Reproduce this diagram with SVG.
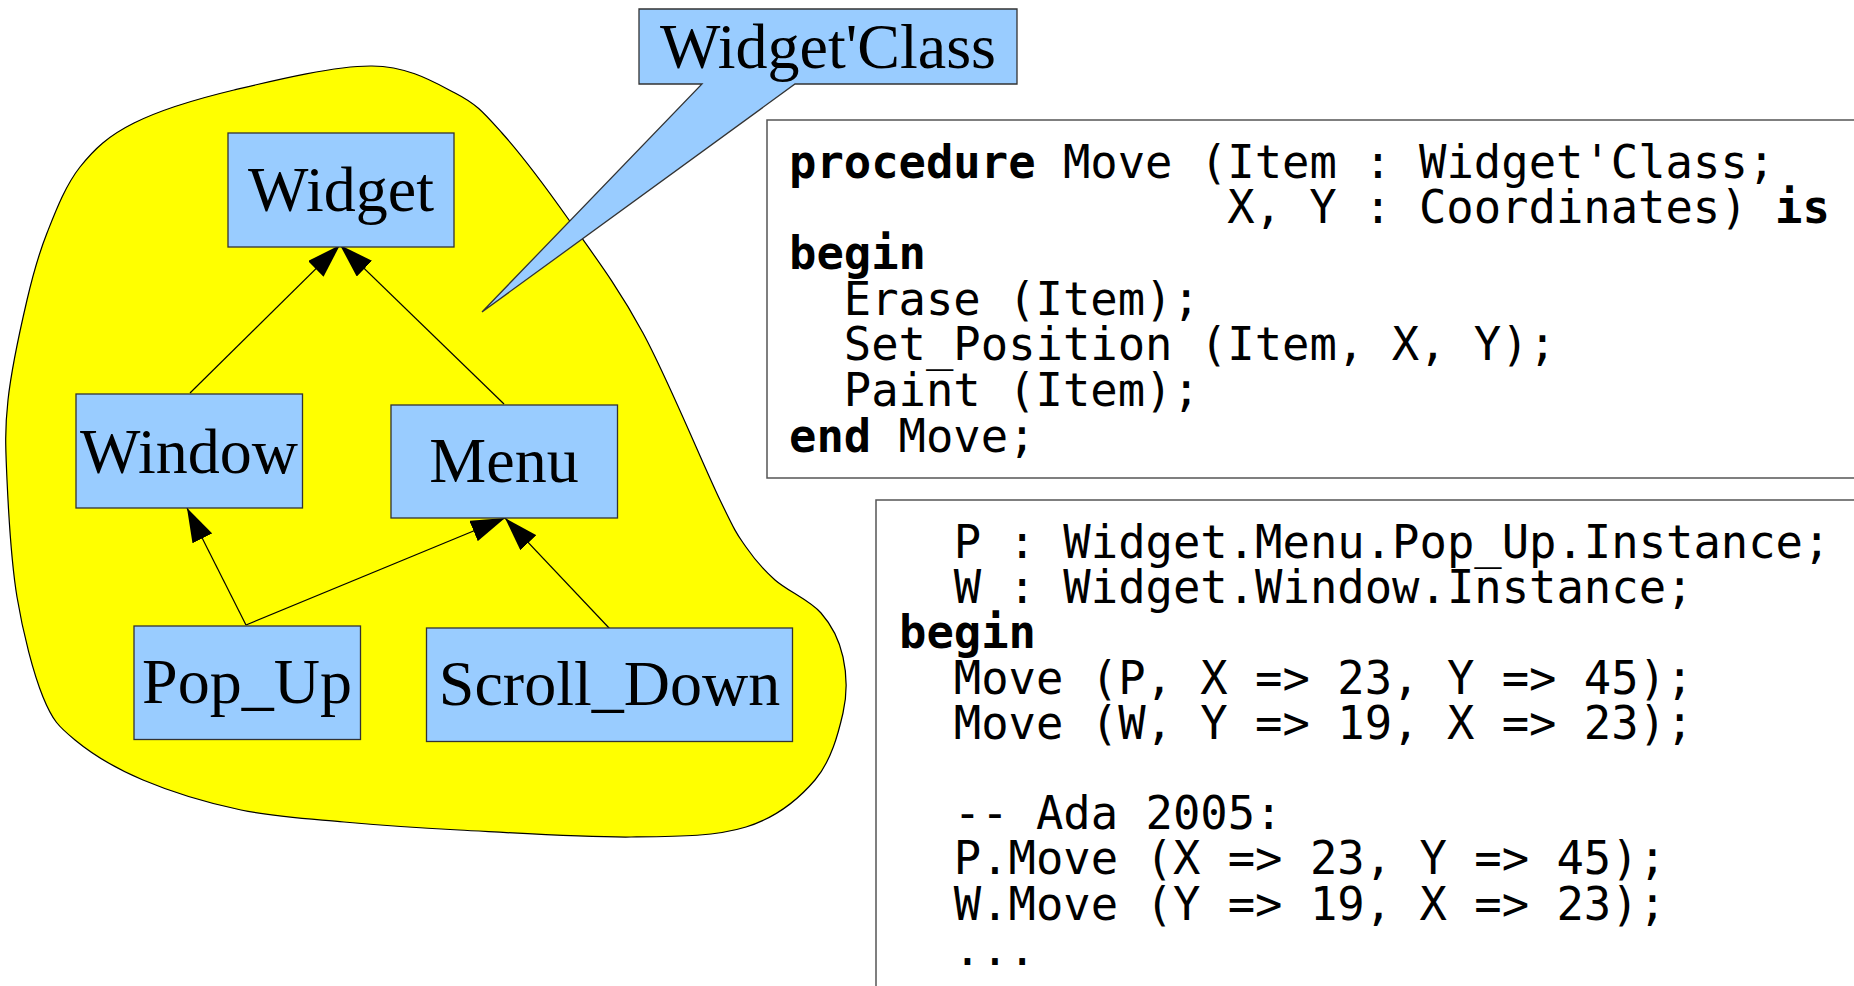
<svg xmlns="http://www.w3.org/2000/svg" width="1854" height="986" viewBox="0 0 1854 986">
<style>
.node rect{fill:#99ccff;stroke:#333;stroke-width:1.3}
.lbl{font-family:"Liberation Serif","Times New Roman",serif;font-size:64px;fill:#000;text-anchor:middle}
.code{font-family:"DejaVu Sans Mono","Liberation Mono",monospace;font-size:45.5px;fill:#000}
.kw{font-weight:bold}
.box{fill:#fff;stroke:#555;stroke-width:1.5}
.edge{stroke:#000;stroke-width:1.2;fill:none;marker-end:url(#arr)}
</style>
<defs>
<marker id="arr" markerUnits="userSpaceOnUse" markerWidth="34" markerHeight="22" refX="34" refY="11" orient="auto">
<path d="M0,0 L34,11 L0,22 Z" fill="#000"/>
</marker>
</defs>
<rect width="1854" height="986" fill="#fff"/>
<g id="blob">
<path d="M372,66 C408.8,66.5 433.3,81.8 455,93 C476.7,104.2 483,111.8 502,133 C521,154.2 545.5,186.7 569,220 C592.5,253.3 617.8,286.3 643,333 C668.2,379.7 702.8,464.3 720,500 C737.2,535.7 736.8,533.7 746,547 C755.2,560.3 762.5,569 775,580 C787.5,591 809.7,600.2 821,613 C832.3,625.8 839.3,640.3 843,657 C846.7,673.7 847.7,692.5 843,713 C838.3,733.5 831.2,761 815,780 C798.8,799 776.7,817.5 746,827 C715.3,836.5 678.8,836.5 631,837 C583.2,837.5 506.8,832.5 459,830 C411.2,827.5 380.3,825.3 344,822 C307.7,818.7 274.5,817 241,810 C207.5,803 170.7,791.7 143,780 C115.3,768.3 91.7,753.8 75,740 C58.3,726.2 52.7,720.8 43,697 C33.3,673.2 23,633.2 17,597 C11,560.8 8.5,512.8 7,480 C5.5,447.2 4.7,430 8,400 C11.3,370 20.5,327.8 27,300 C33.5,272.2 38.2,255.2 47,233 C55.8,210.8 65.5,185.3 80,167 C94.5,148.7 108.3,135.8 134,123 C159.7,110.2 194.3,99.5 234,90 C273.7,80.5 335.2,65.5 372,66 Z" fill="#ffff00" stroke="#000" stroke-width="1.2"/>
</g>
<g id="connectors">
<line class="edge" x1="190" y1="393" x2="340" y2="245"/>
<line class="edge" x1="504" y1="404" x2="340" y2="245"/>
<line class="edge" x1="246" y1="625" x2="187" y2="508"/>
<line class="edge" x1="246" y1="625" x2="505" y2="518"/>
<line class="edge" x1="610" y1="629" x2="505" y2="518"/>
</g>
<g id="widget" class="node"><rect x="228" y="133" width="226" height="114"/><text class="lbl" x="341" y="211">Widget</text></g>
<g id="window" class="node"><rect x="76" y="394" width="226.5" height="114"/><text class="lbl" x="189" y="473">Window</text></g>
<g id="menu" class="node"><rect x="391" y="405" width="226.5" height="113"/><text class="lbl" x="504" y="482">Menu</text></g>
<g id="popup" class="node"><rect x="134" y="626" width="226.5" height="113.5"/><text class="lbl" x="247" y="703">Pop_Up</text></g>
<g id="scrolldown" class="node"><rect x="426.5" y="628" width="366" height="113.5"/><text class="lbl" x="609.5" y="705">Scroll_Down</text></g>
<g id="widgetclass">
<path d="M639,9 L1017,9 L1017,84 L795,84 L482,312 L702,84 L639,84 Z" fill="#99ccff" stroke="#333" stroke-width="1.3" stroke-linejoin="miter"/>
<text class="lbl" x="828" y="68">Widget'Class</text>
</g>
<g id="code1">
<rect class="box" x="767" y="120" width="1100" height="358"/>
<text class="code" x="789" y="177.5"><tspan class="kw">procedure</tspan> Move (Item : Widget'Class;</text>
<text class="code" x="1227.2" y="223.2">X, Y : Coordinates) <tspan class="kw">is</tspan></text>
<text class="code kw" x="789" y="268.9">begin</text>
<text class="code" x="843.8" y="314.6">Erase (Item);</text>
<text class="code" x="843.8" y="360.3">Set_Position (Item, X, Y);</text>
<text class="code" x="843.8" y="406">Paint (Item);</text>
<text class="code" x="789" y="451.7"><tspan class="kw">end</tspan> Move;</text>
</g>
<g id="code2">
<rect class="box" x="876" y="500" width="1000" height="520"/>
<text class="code" x="953.8" y="558">P : Widget.Menu.Pop_Up.Instance;</text>
<text class="code" x="953.8" y="603.2">W : Widget.Window.Instance;</text>
<text class="code kw" x="899" y="648.4">begin</text>
<text class="code" x="953.8" y="693.6">Move (P, X =&gt; 23, Y =&gt; 45);</text>
<text class="code" x="953.8" y="738.8">Move (W, Y =&gt; 19, X =&gt; 23);</text>
<text class="code" x="953.8" y="829.2">-- Ada 2005:</text>
<text class="code" x="953.8" y="874.4">P.Move (X =&gt; 23, Y =&gt; 45);</text>
<text class="code" x="953.8" y="919.6">W.Move (Y =&gt; 19, X =&gt; 23);</text>
<text class="code" x="953.8" y="964.8">...</text>
</g>
</svg>
